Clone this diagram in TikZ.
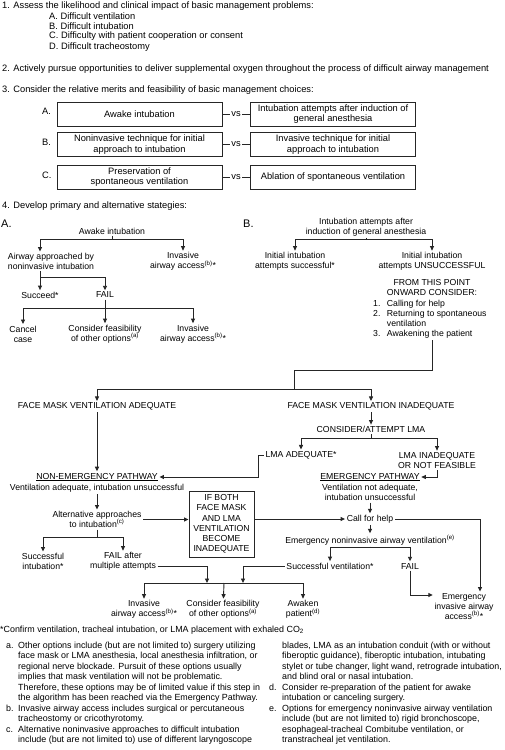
\documentclass[tikz,border=0pt]{standalone}
\usepackage{fontspec}
\setmainfont{Liberation Sans}
\usetikzlibrary{arrows.meta}
\begin{document}
\begin{tikzpicture}[x=1pt,y=-1pt,
  hdr/.style={anchor=west, inner sep=0pt, font=\fontsize{9.3}{10.3}\selectfont},
  hbox/.style={draw=black!85, line width=1pt, minimum width=165pt, minimum height=24pt, inner sep=1pt, align=center, font=\fontsize{9.3}{10.3}\selectfont},
  vstxt/.style={inner sep=1.5pt, font=\fontsize{9.3}{10.3}\selectfont},
  txt/.style={inner sep=1.5pt, align=center, font=\fontsize{8.7}{10.2}\selectfont},
  ln/.style={line width=0.9pt, draw=black!85},
  arr/.style={ln, -{Triangle[length=4.5pt,width=4pt]}},
  fnote/.style={anchor=north west, inner sep=0pt, font=\fontsize{8.9}{10.5}\selectfont},
  big/.style={anchor=west, inner sep=0pt, font=\fontsize{11}{12}\selectfont}]
\useasboundingbox[fill=white] (0,0) rectangle (504,750);

% ---- Section 1-3 ----
\node[hdr] (h1) at (2,6.5) {1. Assess the likelihood and clinical impact of basic management problems:};
\node[hdr] (h1a) at (49,16.5) {A. Difficult ventilation};
\node[hdr] (h1b) at (49,26.5) {B. Difficult intubation};
\node[hdr] (h1c) at (49,36.5) {C. Difficulty with patient cooperation or consent};
\node[hdr] (h1d) at (49,47) {D. Difficult tracheostomy};
\node[hdr] (h2) at (2,69) {2. Actively pursue opportunities to deliver supplemental oxygen throughout the process of difficult airway management};
\node[hdr] (h3) at (2,90) {3. Consider the relative merits and feasibility of basic management choices:};

\node[hdr] (lA) at (42,111) {A.};
\node[hbox] (bA1) at (139.5,114) {Awake intubation};
\node[hbox] (bA2) at (333,114) {Intubation attempts after induction of\\general anesthesia};
\node[vstxt] (vsA) at (236,114) {vs};
\draw[ln] (bA1.east) -- (vsA.west);
\draw[ln] (vsA.east) -- (bA2.west);

\node[hdr] (lB) at (42,142) {B.};
\node[hbox] (bB1) at (139.5,144.5) {Noninvasive technique for initial\\approach to intubation};
\node[hbox] (bB2) at (333,144.5) {Invasive technique for initial\\approach to intubation};
\node[vstxt] (vsB) at (236,144.5) {vs};
\draw[ln] (bB1.east) -- (vsB.west);
\draw[ln] (vsB.east) -- (bB2.west);

\node[hdr] (lC) at (42,175) {C.};
\node[hbox] (bC1) at (139.5,177) {Preservation of\\spontaneous ventilation};
\node[hbox] (bC2) at (333,177) {Ablation of spontaneous ventilation};
\node[vstxt] (vsC) at (236,177) {vs};
\draw[ln] (bC1.east) -- (vsC.west);
\draw[ln] (vsC.east) -- (bC2.west);

\node[hdr] (h4) at (2,206) {4. Develop primary and alternative stategies:};
\node[big] (sA) at (1,224) {A.};
\node[big] (sB) at (243,224) {B.};

% ---- Strategy A ----
\node[txt] (awake) at (112,231) {Awake intubation};
\coordinate (jA) at (112,239);
\coordinate (xA) at (40,239);
\node[txt] (approach) at (51,261.5) {Airway approached by\\noninvasive intubation};
\node[txt] (inv1) at (183,261.5) {Invasive\\airway access\textsuperscript{(b)}*};
\draw[ln] (awake) -- (jA);
\draw[arr] (jA) -| (approach.north -| xA);
\draw[arr] (jA) -| (inv1);

\coordinate (jB) at (40,277);
\node[txt] (succeed) at (40,295) {Succeed*};
\node[txt] (fail1) at (105,295) {FAIL};
\draw[ln] (approach.south -| jB) -- (jB);
\draw[arr] (jB) -- (succeed);
\draw[arr] (jB) -| (fail1);

\coordinate (jC) at (105,308);
\node[txt] (cancel) at (23,334) {Cancel\\case};
\node[txt] (cons1) at (105,334) {Consider feasibility\\of other options\textsuperscript{(a)}};
\node[txt] (inv2) at (193,334) {Invasive\\airway access\textsuperscript{(b)}*};
\draw[ln] (fail1) -- (jC);
\draw[arr] (jC) -| (cancel);
\draw[arr] (jC) -- (cons1);
\draw[arr] (jC) -| (inv2);

% ---- Strategy B ----
\node[txt] (ind) at (366,227) {Intubation attempts after\\induction of general anesthesia};
\coordinate (jD) at (366,239);
\node[txt] (isucc) at (295,261.5) {Initial intubation\\attempts successful*};
\node[txt] (iunsucc) at (432,261.5) {Initial intubation\\attempts UNSUCCESSFUL};
\draw[ln] (ind) -- (jD);
\draw[arr] (jD) -| (isucc);
\draw[arr] (jD) -| (iunsucc);

\node[txt] (fromp) at (432,287.5) {FROM THIS POINT\\ONWARD CONSIDER:};
\node[anchor=north west, inner sep=0pt, font=\fontsize{8.7}{10.2}\selectfont] (list) at (373,299)
  {\begin{tabular}{@{}l@{\hspace{6.5pt}}l@{}}1. & Calling for help\\2. & Returning to spontaneous\\ & ventilation\\3. & Awakening the patient\end{tabular}};

\coordinate (jE) at (432,370);
\coordinate (jF) at (294,370);
\coordinate (jG) at (294,389);
\node[txt] (fmA) at (97,406.5) {FACE MASK VENTILATION ADEQUATE};
\node[txt] (fmI) at (371,406.5) {FACE MASK VENTILATION INADEQUATE};
\draw[ln] (list.south -| jE) -- (jE) -- (jF) -- (jG);
\draw[arr] (jG) -| (fmA);
\draw[arr] (jG) -| (fmI);

% ---- Non-emergency pathway ----
\node[txt] (nonem) at (97,477) {\underline{NON-EMERGENCY PATHWAY}};
\node[txt] (vadeq) at (97,488.5) {Ventilation adequate, intubation unsuccessful};
\draw[arr] (fmA) -- (nonem);
\node[txt] (alt) at (97,519.5) {Alternative approaches\\to intubation\textsuperscript{(c)}};
\draw[arr] (vadeq) -- (alt);

\node[draw=black!85, line width=1pt, align=center, minimum width=65pt, minimum height=66pt, inner sep=1pt, font=\fontsize{8.7}{10.2}\selectfont] (both) at (221.5,524)
  {IF BOTH\\FACE MASK\\AND LMA\\VENTILATION\\BECOME\\INADEQUATE};
\draw[arr] (alt.east) -- (alt.east -| both.west);

\coordinate (jH) at (97,537);
\node[txt] (succInt) at (43,561.5) {Successful\\intubation*};
\node[txt] (failMult) at (123,561.5) {FAIL after\\multiple attempts};
\draw[ln] (alt) -- (jH);
\draw[arr] (jH) -| (succInt);
\draw[arr] (jH) -| (failMult);

\node[txt] (invB) at (144,609.5) {Invasive\\airway access\textsuperscript{(b)}*};
\node[txt] (consB) at (223,609.5) {Consider feasibility\\of other options\textsuperscript{(a)}};
\node[txt] (awaken) at (303,609.5) {Awaken\\patient\textsuperscript{(d)}};
\coordinate (jK) at (224,583);
\draw[arr] (jK) -| (invB);
\draw[arr] (jK) -- (consB);
\draw[arr] (jK) -| (awaken);

\coordinate (jI) at (207,566.5);
\coordinate (jJ) at (207,583);
\draw[arr] (failMult.east |- jI) -- (jI) -- (jJ);

% ---- Emergency side ----
\node[txt] (lma) at (371,429.5) {CONSIDER/ATTEMPT LMA};
\draw[arr] (fmI) -- (lma);
\coordinate (jN) at (371,438);
\node[txt] (lmaA) at (301,455) {LMA ADEQUATE*};
\node[txt] (lmaI) at (437,460.5) {LMA INADEQUATE\\OR NOT FEASIBLE};
\draw[ln] (lma) -- (jN);
\draw[arr] (jN) -| (lmaA);
\draw[arr] (jN) -| (lmaI);

\coordinate (jO) at (258,455);
\draw[arr] (lmaA.west) -- (jO) |- (nonem.east);

\node[txt] (emerg) at (370,477) {\underline{EMERGENCY PATHWAY}};
\node[txt] (vnot) at (370,492.5) {Ventilation not adequate,\\intubation unsuccessful};
\draw[arr] (lmaI.south) |- (emerg.east);

\node[txt] (call) at (370,519) {Call for help};
\draw[arr] (vnot) -- (call);
\draw[arr] (both.east |- call) -- (call);

\node[txt] (env) at (370,540) {Emergency noninvasive airway ventilation\textsuperscript{(e)}};
\draw[arr] (call) -- (env);
\coordinate (jS) at (370,547);
\node[txt] (sv) at (330,566) {Successful ventilation*};
\node[txt] (fail3) at (410,566) {FAIL};
\draw[ln] (env) -- (jS);
\draw[arr] (jS) -| (sv);
\draw[arr] (jS) -| (fail3);

\coordinate (jL) at (243,566);
\coordinate (jM) at (243,583);
\draw[arr] (sv.west) -- (jL) -- (jM);

\node[txt] (ei) at (464,606.5) {Emergency\\invasive airway\\access\textsuperscript{(b)}*};
\coordinate (jR) at (480,519);
\draw[arr] (call.east) -- (jR) -- (ei.north -| jR);
\coordinate (jT) at (410,595);
\draw[arr] (fail3) -- (jT) -- (ei.west |- jT);

% ---- Footnotes ----
\node[anchor=west, inner sep=0pt, font=\fontsize{8.9}{10.5}\selectfont] (fn0) at (0,630) {*Confirm ventilation, tracheal intubation, or LMA placement with exhaled CO\textsubscript{2}};
\node[fnote] (fnL) at (6,640.6) {\begin{tabular}{@{}l@{}l@{}}
\makebox[12pt][l]{a.} & Other options include (but are not limited to) surgery utilizing\\
 & face mask or LMA anesthesia, local anesthesia infiltration, or\\
 & regional nerve blockade. Pursuit of these options usually\\
 & implies that mask ventilation will not be problematic.\\
 & Therefore, these options may be of limited value if this step in\\
 & the algorithm has been reached via the Emergency Pathway.\\
\makebox[12pt][l]{b.} & Invasive airway access includes surgical or percutaneous\\
 & tracheostomy or cricothyrotomy.\\
\makebox[12pt][l]{c.} & Alternative noninvasive approaches to difficult intubation\\
 & include (but are not limited to) use of different laryngoscope
\end{tabular}};
\node[fnote] (fnR) at (269,640.6) {\begin{tabular}{@{}l@{}l@{}}
\makebox[13pt][l]{} & blades, LMA as an intubation conduit (with or without\\
 & fiberoptic guidance), fiberoptic intubation, intubating\\
 & stylet or tube changer, light wand, retrograde intubation,\\
 & and blind oral or nasal intubation.\\
\makebox[13pt][l]{d.} & Consider re-preparation of the patient for awake\\
 & intubation or canceling surgery.\\
\makebox[13pt][l]{e.} & Options for emergency noninvasive airway ventilation\\
 & include (but are not limited to) rigid bronchoscope,\\
 & esophageal-tracheal Combitube ventilation, or\\
 & transtracheal jet ventilation.
\end{tabular}};
\end{tikzpicture}
\end{document}
